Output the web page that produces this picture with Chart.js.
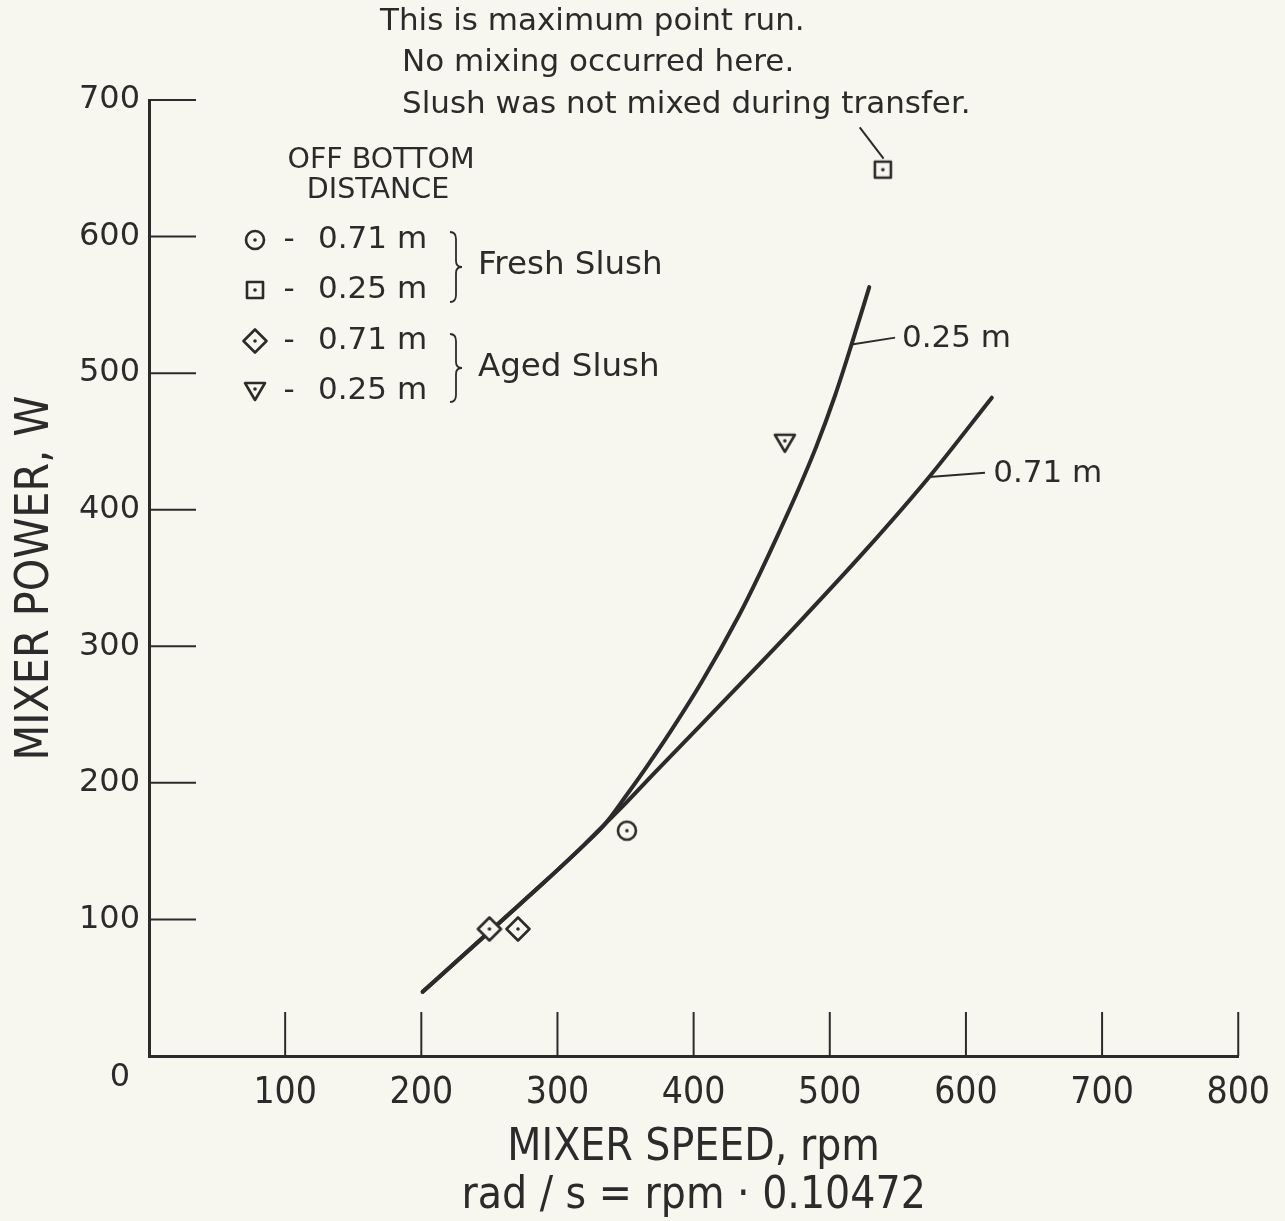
<!DOCTYPE html>
<html>
<head>
<meta charset="utf-8">
<script src="https://cdn.jsdelivr.net/npm/chart.js@4.4.1/dist/chart.umd.min.js"></script>
<style>
  html,body{margin:0;padding:0;background:#f7f7ef;}
  canvas{display:block;}
</style>
</head>
<body>
<canvas id="c" width="1285" height="1221"></canvas>
<script>
// ---- data ----
const xTicks = [0, 100, 200, 300, 400, 500, 600, 700, 800];
const yTicks = [0, 100, 200, 300, 400, 500, 600, 700];

// fitted curves (rpm, W)
const curve025X = [201, 230, 260, 290, 320, 335, 350, 365, 382, 406, 433, 448, 463, 477, 490, 504, 516, 529];
const curve025Y = [47, 73, 100, 127, 155, 170, 190, 211, 236, 274, 322, 352, 384, 415, 446, 484, 521, 563];
const curve071X = [201, 230, 260, 290, 320, 335, 350, 372, 404, 433, 477, 526, 573, 619];
const curve071Y = [47, 73, 100, 127, 155, 170, 185, 208, 241, 271, 317, 370, 424, 482];

// measured points
const freshX071 = [351];
const freshY071 = [165];
const freshX025 = [539];
const freshY025 = [649];
const agedX071 = [250, 271];
const agedY071 = [93, 93];
const agedX025 = [467];
const agedY025 = [449];

const noteLines = ['This is maximum point run.', 'No mixing occurred here.', 'Slush was not mixed during transfer.'];

const INK = '#2b2b2b';
const BG = '#f7f7ef';

function pts(xs, ys){ return xs.map((x,i)=>({x:x, y:ys[i]})); }

function makeMarker(type){
  const S = 30, m = S/2;
  const c = document.createElement('canvas'); c.width = S; c.height = S;
  const g = c.getContext('2d');
  g.strokeStyle = INK; g.lineWidth = 2.6; g.lineJoin = 'round';
  g.beginPath();
  if (type === 'circle') g.arc(m, m, 9, 0, 2*Math.PI);
  else if (type === 'square') { g.rect(m-8, m-8, 16, 16); }
  else if (type === 'diamond') { g.moveTo(m, m-11.5); g.lineTo(m+11.5, m); g.lineTo(m, m+11.5); g.lineTo(m-11.5, m); g.closePath(); }
  else if (type === 'triangle') { g.moveTo(m-10, m-8); g.lineTo(m+10, m-8); g.lineTo(m, m+9); g.closePath(); }
  g.fillStyle = BG; g.fill(); g.stroke();
  g.fillStyle = INK; g.beginPath(); g.arc(m, type==='triangle'? m-2 : m, 1.8, 0, 2*Math.PI); g.fill();
  return c;
}
const mk = {circle: makeMarker('circle'), square: makeMarker('square'), diamond: makeMarker('diamond'), triangle: makeMarker('triangle')};

function markerDataset(label, xs, ys, img){
  return {label: label, data: pts(xs, ys), pointStyle: img, pointRadius: 12, pointHoverRadius: 12, showLine: false};
}

const decor = {
  id: 'decor',
  beforeDraw(chart){
    const g = chart.ctx;
    g.save(); g.fillStyle = BG; g.fillRect(0, 0, chart.width, chart.height); g.restore();
  },
  afterDraw(chart){
    const g = chart.ctx, xs = chart.scales.x, ys = chart.scales.y;
    const L = chart.chartArea.left, B = chart.chartArea.bottom;
    g.save();
    g.strokeStyle = INK; g.fillStyle = INK; g.lineCap = 'butt';
    // inward ticks
    g.lineWidth = 2;
    yTicks.forEach(v => { if (v === 0) return; const p = ys.getPixelForValue(v); g.beginPath(); g.moveTo(L, p); g.lineTo(L + 47, p); g.stroke(); });
    xTicks.forEach(v => { if (v === 0) return; const p = xs.getPixelForValue(v); g.beginPath(); g.moveTo(p, B); g.lineTo(p, B - 44); g.stroke(); });
    // origin label
    g.font = '32px "DejaVu Sans"'; g.textAlign = 'center'; g.textBaseline = 'middle';
    g.fillText('0', L - 29, B + 22);

    // annotation at top
    g.font = '31px "DejaVu Sans"'; g.textAlign = 'left';
    g.fillText(noteLines[0], 380, 22);
    g.fillText(noteLines[1], 402, 63);
    g.fillText(noteLines[2], 402, 105);
    // leader to square
    g.lineWidth = 2;
    g.beginPath(); g.moveTo(xs.getPixelForValue(522), ys.getPixelForValue(680)); g.lineTo(xs.getPixelForValue(539.5), ys.getPixelForValue(657)); g.stroke();

    // curve labels with leaders
    g.lineWidth = 2;
    g.beginPath(); g.moveTo(xs.getPixelForValue(516), ys.getPixelForValue(521)); g.lineTo(xs.getPixelForValue(548), ys.getPixelForValue(526)); g.stroke();
    g.beginPath(); g.moveTo(xs.getPixelForValue(573), ys.getPixelForValue(424)); g.lineTo(xs.getPixelForValue(614), ys.getPixelForValue(427)); g.stroke();
    g.font = '31px "DejaVu Sans"'; g.textAlign = 'left';
    g.fillText('0.25 m', xs.getPixelForValue(553), ys.getPixelForValue(525));
    g.fillText('0.71 m', xs.getPixelForValue(620), ys.getPixelForValue(426));

    // legend block
    g.font = '28.5px "DejaVu Sans"'; g.textAlign = 'center';
    g.fillText('OFF BOTTOM', 381, 161);
    g.fillText('DISTANCE', 378, 191);
    const rows = [[mk.circle, '0.71 m', 240], [mk.square, '0.25 m', 290], [mk.diamond, '0.71 m', 341], [mk.triangle, '0.25 m', 391]];
    g.font = '31px "DejaVu Sans"';
    rows.forEach(r => {
      g.drawImage(r[0], 255 - 15, r[2] - 15);
      g.textAlign = 'center'; g.fillText('-', 289, r[2]);
      g.textAlign = 'left'; g.fillText(r[1], 318, r[2]);
    });
    // braces
    function brace(x, top, bot){
      const mid = (top + bot) / 2;
      g.lineWidth = 1.8;
      g.beginPath();
      g.moveTo(x, top);
      g.quadraticCurveTo(x + 6, top, x + 6, top + 7);
      g.lineTo(x + 6, mid - 6);
      g.quadraticCurveTo(x + 6, mid, x + 12, mid);
      g.quadraticCurveTo(x + 6, mid, x + 6, mid + 6);
      g.lineTo(x + 6, bot - 7);
      g.quadraticCurveTo(x + 6, bot, x, bot);
      g.stroke();
    }
    brace(450, 232, 302);
    brace(450, 334, 402);
    g.font = '32.5px "DejaVu Sans"'; g.textAlign = 'left';
    g.fillText('Fresh Slush', 478, 266);
    g.fillText('Aged Slush', 478, 368);
    g.restore();
  }
};

new Chart(document.getElementById('c'), {
  type: 'scatter',
  data: {
    datasets: [
      markerDataset('Fresh Slush 0.71 m', freshX071, freshY071, mk.circle),
      markerDataset('Fresh Slush 0.25 m', freshX025, freshY025, mk.square),
      markerDataset('Aged Slush 0.71 m', agedX071, agedY071, mk.diamond),
      markerDataset('Aged Slush 0.25 m', agedX025, agedY025, mk.triangle),
      {label: '0.25 m', data: pts(curve025X, curve025Y), showLine: true, borderColor: INK, borderWidth: 4, pointRadius: 0, cubicInterpolationMode: 'monotone', borderCapStyle: 'round'},
      {label: '0.71 m', data: pts(curve071X, curve071Y), showLine: true, borderColor: INK, borderWidth: 4, pointRadius: 0, cubicInterpolationMode: 'monotone', borderCapStyle: 'round'}
    ]
  },
  options: {
    responsive: false,
    animation: false,
    events: [],
    layout: {padding: {left: 0, right: 45, top: 100, bottom: 0}},
    plugins: {legend: {display: false}, tooltip: {enabled: false}},
    scales: {
      x: {
        type: 'linear', min: 0, max: 800,
        afterFit(s){ s.height = 165; },
        afterBuildTicks(s){ s.ticks = xTicks.map(v => ({value: v})); },
        grid: {display: false, drawTicks: false},
        border: {display: true, color: INK, width: 3},
        ticks: {callback: v => v === 0 ? '' : String(v), color: INK, padding: 15, maxRotation: 0, autoSkip: false,
                font: {family: '"Liberation Sans Narrow", "DejaVu Sans Condensed", sans-serif', size: 37}},
        title: {display: true, text: ['MIXER SPEED, rpm', 'rad / s = rpm \u00b7 0.10472'], color: INK,
                font: {family: '"Liberation Sans Narrow", "DejaVu Sans Condensed", sans-serif', size: 44, lineHeight: 48/44},
                padding: {top: 0, bottom: 0}}
      },
      y: {
        type: 'linear', min: 0, max: 700,
        afterFit(s){ s.width = 149; },
        afterBuildTicks(s){ s.ticks = yTicks.map(v => ({value: v})); },
        grid: {display: false, drawTicks: false},
        border: {display: true, color: INK, width: 3},
        ticks: {callback: v => v === 0 ? '' : String(v), color: INK, padding: 9, autoSkip: false,
                font: {family: '"DejaVu Sans", sans-serif', size: 32}},
        title: {display: true, text: 'MIXER POWER, W', color: INK,
                font: {family: '"Liberation Sans Narrow", "DejaVu Sans Condensed", sans-serif', size: 46, lineHeight: 1.2},
                padding: {top: 8, bottom: 0}}
      }
    }
  },
  plugins: [decor]
});
</script>
</body>
</html>
